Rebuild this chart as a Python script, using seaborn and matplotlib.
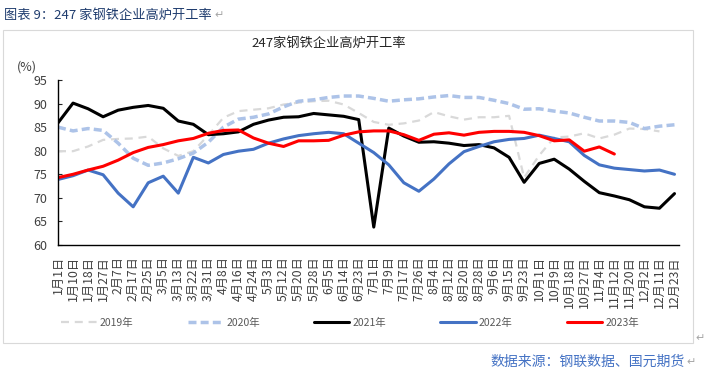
import numpy as np
import pandas as pd
import matplotlib
matplotlib.use("Agg")
import matplotlib.pyplot as plt
from matplotlib.patches import Rectangle
import seaborn as sns

# 247家钢铁企业高炉开工率（周度，%）
dates = ["1月1日", "1月10日", "1月18日", "1月27日", "2月7日", "2月17日", "2月25日",
         "3月5日", "3月13日", "3月22日", "3月31日", "4月8日", "4月16日", "4月24日",
         "5月3日", "5月12日", "5月20日", "5月28日", "6月5日", "6月14日", "6月23日",
         "7月1日", "7月9日", "7月17日", "7月26日", "8月4日", "8月12日", "8月20日",
         "8月28日", "9月6日", "9月15日", "9月23日", "10月1日", "10月9日", "10月18日",
         "10月27日", "11月4日", "11月12日", "11月20日", "12月2日", "12月11日", "12月23日"]

nan = np.nan
y2019 = [79.9, 79.9, 80.9, 82.3, 82.5, 82.6, 83.0, 80.5, 78.9, 79.9,
         83.3, 87.0, 88.4, 88.7, 89.0, 89.8, 90.2, 90.5, 90.6, 89.8,
         88.0, 86.1, 85.5, 85.8, 86.4, 88.2, 87.3, 86.6, 87.1, 87.1,
         87.4, 74.3, 79.0, 82.8, 83.0, 83.7, 82.6, 83.4, 84.7, 84.6,
         84.1, nan]
y2020 = [85.0, 84.2, 84.7, 84.3, 81.6, 78.4, 76.9, 77.4, 78.3, 79.5,
         81.8, 85.0, 86.7, 87.1, 87.8, 89.3, 90.5, 90.8, 91.3, 91.6,
         91.6, 91.1, 90.5, 90.8, 91.0, 91.4, 91.7, 91.3, 91.3, 90.7,
         90.0, 88.8, 88.9, 88.4, 88.0, 87.1, 86.3, 86.3, 86.0, 84.7,
         85.2, 85.5]
y2021 = [85.9, 90.1, 88.9, 87.2, 88.6, 89.2, 89.6, 89.0, 86.3, 85.6,
         83.4, 83.6, 84.0, 85.6, 86.5, 87.1, 87.2, 87.9, 87.6, 87.3,
         86.6, 63.8, 84.8, 83.1, 81.8, 81.9, 81.6, 81.1, 81.3, 80.6,
         78.6, 73.3, 77.3, 78.2, 76.1, 73.5, 71.1, 70.4, 69.6, 68.1,
         67.8, 70.9]
y2022 = [73.9, 74.7, 75.9, 74.9, 71.0, 68.1, 73.2, 74.6, 71.0, 78.6,
         77.4, 79.2, 79.9, 80.3, 81.6, 82.5, 83.2, 83.6, 83.9, 83.6,
         81.6, 79.6, 77.0, 73.2, 71.4, 74.0, 77.2, 79.8, 80.9, 81.9,
         82.4, 82.6, 83.3, 82.6, 81.9, 79.0, 77.0, 76.3, 76.0, 75.7,
         75.9, 75.0]
y2023 = [74.3, 75.0, 75.9, 76.7, 78.0, 79.6, 80.7, 81.3, 82.1, 82.6,
         83.7, 84.3, 84.4, 82.7, 81.6, 80.9, 82.1, 82.1, 82.2, 83.3,
         84.0, 84.2, 84.2, 83.4, 82.2, 83.5, 83.8, 83.3, 83.9, 84.1,
         84.1, 83.9, 83.2, 82.1, 82.3, 79.9, 80.8, 79.3, nan, nan,
         nan, nan]

years = ["2019年", "2020年", "2021年", "2022年", "2023年"]
series = [y2019, y2020, y2021, y2022, y2023]

frames = []
for yr, vals in zip(years, series):
    frames.append(pd.DataFrame({"idx": np.arange(len(dates)), "rate": vals, "year": yr}))
df = pd.concat(frames, ignore_index=True)

palette = {"2019年": "#d9d9d9", "2020年": "#adc3e8", "2021年": "#000000",
           "2022年": "#4472c4", "2023年": "#ff0000"}
dashes = {"2019年": (3.6, 2.6), "2020年": (2.3, 1.2), "2021年": "",
          "2022年": "", "2023年": ""}
widths = {"2019年": 1.6, "2020年": 2.5, "2021年": 2.2, "2022年": 2.2, "2023年": 2.2}

sns.set_style("ticks")
plt.rcParams["font.family"] = ["Noto Sans CJK SC", "DejaVu Sans"]

fig = plt.figure(figsize=(7.05, 3.72), dpi=100)
fig.patch.set_facecolor("white")
W, H = 705, 372

ax = fig.add_axes([58 / W, 1 - 245 / H, (679 - 58) / W, (245 - 80) / H])
sns.lineplot(data=df, x="idx", y="rate", hue="year", style="year", size="year",
             hue_order=years, style_order=years, size_order=years,
             palette=palette, dashes=dashes, sizes=widths,
             estimator=None, legend=False, ax=ax)

ax.set_xlim(0, 41.3)
ax.set_ylim(60, 95)
ax.set_yticks(range(60, 96, 5))
ax.set_xticks(range(len(dates)))
ax.set_xticklabels(dates, rotation=90, fontsize=8.8, color="#404040")
ax.tick_params(axis="y", direction="in", length=3, pad=8, labelsize=9, labelcolor="#404040")
ax.tick_params(axis="x", length=0, pad=8)
ax.set_xlabel("")
ax.set_ylabel("")
sns.despine(ax=ax)
for s in ["left", "bottom"]:
    ax.spines[s].set_color("black")
    ax.spines[s].set_linewidth(1.0)

leg = ax.legend(handles=ax.lines[:5], labels=years, ncol=5, frameon=False,
                fontsize=7.5, handlelength=3.4, handletextpad=0.3, columnspacing=5.2,
                loc="center", bbox_to_anchor=(350 / W, 1 - 323 / H),
                bbox_transform=fig.transFigure)
for t in leg.get_texts():
    t.set_color("#595959")

# 外框与文字
fig.patches.append(Rectangle((3 / W, 1 - 343 / H), 690 / W, 313 / H, transform=fig.transFigure,
                             fill=False, edgecolor="#d9d9d9", linewidth=0.8))
fig.text(4 / W, 1 - 15 / H, "图表 9：247 家钢铁企业高炉开工率", fontsize=9.5,
         color="#1f3c6e", va="center")
fig.text(214 / W, 1 - 15 / H, "↵", fontsize=8, color="#a6a6a6", va="center")
fig.text(329 / W, 1 - 43 / H, "247家钢铁企业高炉开工率", fontsize=9.5,
         color="#262626", ha="center", va="center")
fig.text(27 / W, 1 - 67 / H, "(%)", fontsize=9, color="#404040", ha="center", va="center")
fig.text(685 / W, 1 - 362 / H, "数据来源：钢联数据、国元期货", fontsize=10,
         color="#4472c4", ha="right", va="center")
fig.text(686 / W, 1 - 362 / H, "↵", fontsize=8, color="#a6a6a6", va="center")
fig.text(695 / W, 1 - 338 / H, "↵", fontsize=8, color="#a6a6a6", va="center")

fig.savefig("out.png", dpi=100, facecolor="white")
